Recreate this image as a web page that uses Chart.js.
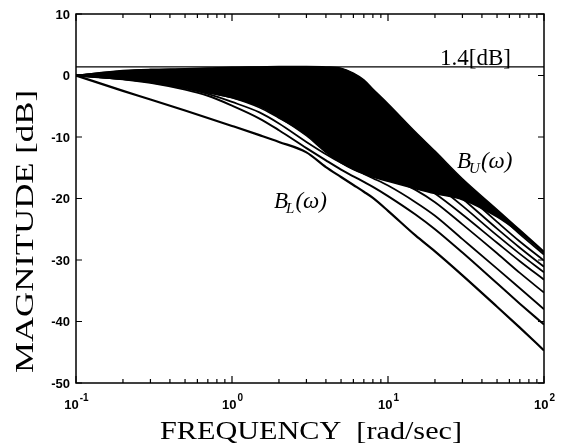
<!DOCTYPE html>
<html>
<head>
<meta charset="utf-8">
<script src="https://cdn.jsdelivr.net/npm/chart.js@4.4.1/dist/chart.umd.min.js"></script>
<style>
  html, body { margin: 0; padding: 0; background: #fff; }
  #wrap { width: 561px; height: 445px; }
</style>
</head>
<body>
<div id="wrap"><canvas id="myChart" width="561" height="445"></canvas></div>
<script>
// frequency grid [rad/sec] and magnitudes [dB]
const freq = [0.1, 0.2, 0.3, 0.5, 0.7, 1, 1.5, 2, 3, 4, 5, 6, 7, 8, 10, 15, 20, 30, 50, 70, 100];

const upperBound = [0, 0.8, 1.0, 1.1, 1.2, 1.35, 1.4, 1.45, 1.45, 1.4, 1.2, 0.4, -0.7, -2.2, -4.6, -9.2, -12.3, -16.8, -21.8, -25.1, -28.6];
const innerEdge = [0, -0.6, -1.1, -2.0, -2.8, -3.6, -5.0, -6.8, -9.8, -12.5, -14.2, -15.3, -16.0, -16.5, -17.2, -18.4, -19.2, -20.2, -23.0, -25.6, -28.8];
const lowerBound = [0, -2.5, -3.9, -5.7, -6.9, -8.2, -9.7, -10.8, -12.5, -14.9, -16.5, -17.8, -18.9, -19.9, -22.0, -26.0, -28.6, -32.5, -37.6, -41.0, -44.7];

const fan1 = [0, 0.7, 0.9, 1.0, 1.1, 1.2, 1.3, 1.3, 1.3, 1.2, 0.8, -0.2, -1.6, -3.0, -5.6, -10.2, -13.2, -17.4, -22.4, -25.8, -29.1];
const fan2 = [0, 0.5, 0.6, 0.8, 0.9, 1.0, 1.1, 1.2, 1.2, 0.8, -0.2, -1.8, -3.6, -5.2, -7.8, -12.0, -14.9, -18.8, -23.8, -27.0, -30.1];
const fan3 = [0, 0.3, 0.5, 0.6, 0.7, 0.8, 0.9, 1.0, 0.6, -0.8, -2.4, -4.2, -6.0, -7.6, -10.0, -13.6, -16.2, -20.0, -24.9, -28.0, -31.1];
const fan4 = [0, 0.2, 0.3, 0.4, 0.5, 0.6, 0.5, 0.2, -1.2, -3.0, -4.8, -6.6, -8.2, -9.6, -11.8, -15.2, -17.6, -21.2, -26.0, -29.0, -32.0];
const fan5 = [0, -0.2, -0.4, -0.8, -1.2, -1.8, -2.8, -3.8, -6.0, -8.0, -9.6, -11.0, -12.2, -13.2, -14.8, -17.2, -19.2, -22.6, -27.2, -30.2, -33.2];
const fan6 = [0, -0.5, -1.0, -1.9, -2.7, -3.6, -5.2, -6.9, -9.4, -11.4, -12.8, -13.8, -14.6, -15.3, -16.4, -18.6, -20.6, -24.2, -28.9, -32.1, -35.3];
const fan7 = [0, -0.6, -1.1, -2.1, -3.0, -4.3, -6.0, -7.8, -10.8, -12.8, -14.2, -15.2, -16.0, -16.7, -17.9, -20.6, -22.8, -26.6, -31.4, -34.6, -38.0];
const fan8 = [0, -0.6, -1.2, -2.3, -3.3, -4.9, -7.0, -8.9, -11.8, -13.8, -15.3, -16.4, -17.3, -18.1, -19.6, -22.6, -25.0, -28.8, -33.8, -37.1, -40.5];

const peakDb = 1.4;
const yTicks = [10, 0, -10, -20, -30, -40, -50];
const xDecades = [0.1, 1, 10, 100];
const xExponents = ["-1", "0", "1", "2"];

const SERIF = '"Liberation Serif", "DejaVu Serif", serif';
const SANS = '"Liberation Sans", Arial, sans-serif';

function pts(arr) {
  return freq.map((f, i) => ({ x: f, y: arr[i] }));
}

function curve(arr, width) {
  return {
    data: pts(arr),
    borderColor: "#000",
    borderWidth: width,
    pointRadius: 0,
    fill: false,
    cubicInterpolationMode: "monotone",
  };
}

// draws the boxed frame, inward ticks, tick labels, titles and annotations
const framePlugin = {
  id: "frame",
  afterDraw(chart) {
    const ctx = chart.ctx;
    const a = chart.chartArea;
    const xs = chart.scales.x;
    const ys = chart.scales.y;
    ctx.save();
    ctx.strokeStyle = "#000";
    ctx.fillStyle = "#000";
    ctx.lineWidth = 1.5;
    ctx.strokeRect(a.left, a.top, a.right - a.left, a.bottom - a.top);

    ctx.lineWidth = 1.2;
    ctx.beginPath();
    yTicks.forEach((v) => {
      const y = ys.getPixelForValue(v);
      ctx.moveTo(a.left, y); ctx.lineTo(a.left + 6, y);
      ctx.moveTo(a.right, y); ctx.lineTo(a.right - 6, y);
    });
    xDecades.forEach((d) => {
      for (let m = 1; m <= 9; m++) {
        const v = d * m;
        if (v > 100.001) break;
        const x = xs.getPixelForValue(v);
        const len = m === 1 ? 7 : 4;
        ctx.moveTo(x, a.bottom); ctx.lineTo(x, a.bottom - len);
        ctx.moveTo(x, a.top); ctx.lineTo(x, a.top + len);
      }
    });
    ctx.stroke();

    // y tick labels
    ctx.font = "bold 13px " + SANS;
    ctx.textAlign = "right";
    ctx.textBaseline = "middle";
    yTicks.forEach((v) => {
      ctx.fillText(String(v), a.left - 6, ys.getPixelForValue(v) + 1);
    });

    // x tick labels 10^n
    ctx.textBaseline = "alphabetic";
    xDecades.forEach((d, i) => {
      const x = xs.getPixelForValue(d);
      ctx.font = "bold 13px " + SANS;
      const wb = ctx.measureText("10").width;
      ctx.font = "bold 10px " + SANS;
      const we = ctx.measureText(xExponents[i]).width;
      const start = x - (wb + we) / 2;
      ctx.textAlign = "left";
      ctx.font = "bold 13px " + SANS;
      ctx.fillText("10", start, a.bottom + 26);
      ctx.font = "bold 10px " + SANS;
      ctx.fillText(xExponents[i], start + wb + 1, a.bottom + 18);
    });

    // axis titles, stretched to the reference width
    ctx.font = "25px " + SERIF;
    const xt = "FREQUENCY  [rad/sec]";
    const wx = ctx.measureText(xt).width;
    ctx.save();
    ctx.translate(160, 439);
    ctx.scale(302 / wx, 1);
    ctx.textAlign = "left";
    ctx.fillText(xt, 0, 0);
    ctx.restore();

    const yt = "MAGNITUDE [dB]";
    const wy = ctx.measureText(yt).width;
    ctx.save();
    ctx.translate(33, 373);
    ctx.rotate(-Math.PI / 2);
    ctx.scale(283 / wy, 1);
    ctx.textAlign = "left";
    ctx.fillText(yt, 0, 0);
    ctx.restore();

    // annotations
    ctx.textAlign = "left";
    ctx.font = "23px " + SERIF;
    ctx.fillText("1.4[dB]", 440, 65);

    function bLabel(x, y, sub) {
      ctx.font = "italic 23px " + SERIF;
      ctx.fillText("B", x, y);
      const wB = ctx.measureText("B").width;
      ctx.font = "italic 15px " + SERIF;
      ctx.fillText(sub, x + wB - 2, y + 5);
      const wS = ctx.measureText(sub).width;
      ctx.font = "italic 23px " + SERIF;
      ctx.fillText("(\u03c9)", x + wB + wS - 1, y);
    }
    bLabel(457, 168, "U");
    bLabel(274, 208, "L");
    ctx.restore();
  },
};

const datasets = [
  Object.assign(curve(upperBound, 1.5), { fill: "+1", backgroundColor: "#000" }),
  curve(innerEdge, 1.5),
  curve(fan1, 1.8),
  curve(fan2, 1.8),
  curve(fan3, 1.8),
  curve(fan4, 1.8),
  curve(fan5, 1.8),
  curve(fan6, 1.8),
  curve(fan7, 1.8),
  curve(fan8, 2),
  curve(lowerBound, 2.2),
  {
    data: [{ x: freq[0], y: peakDb }, { x: freq[freq.length - 1], y: peakDb }],
    borderColor: "#000",
    borderWidth: 1.4,
    pointRadius: 0,
    fill: false,
  },
];

const ctx = document.getElementById("myChart").getContext("2d");
const myChart = new Chart(ctx, {
  type: "line",
  data: { datasets },
  options: {
    responsive: false,
    animation: false,
    layout: { padding: { left: 76, right: 17, top: 14, bottom: 62 } },
    plugins: { legend: { display: false }, tooltip: { enabled: false } },
    scales: {
      x: { type: "logarithmic", min: 0.1, max: 100, display: false },
      y: { type: "linear", min: -50, max: 10, display: false },
    },
  },
  plugins: [framePlugin],
});
</script>
</body>
</html>
